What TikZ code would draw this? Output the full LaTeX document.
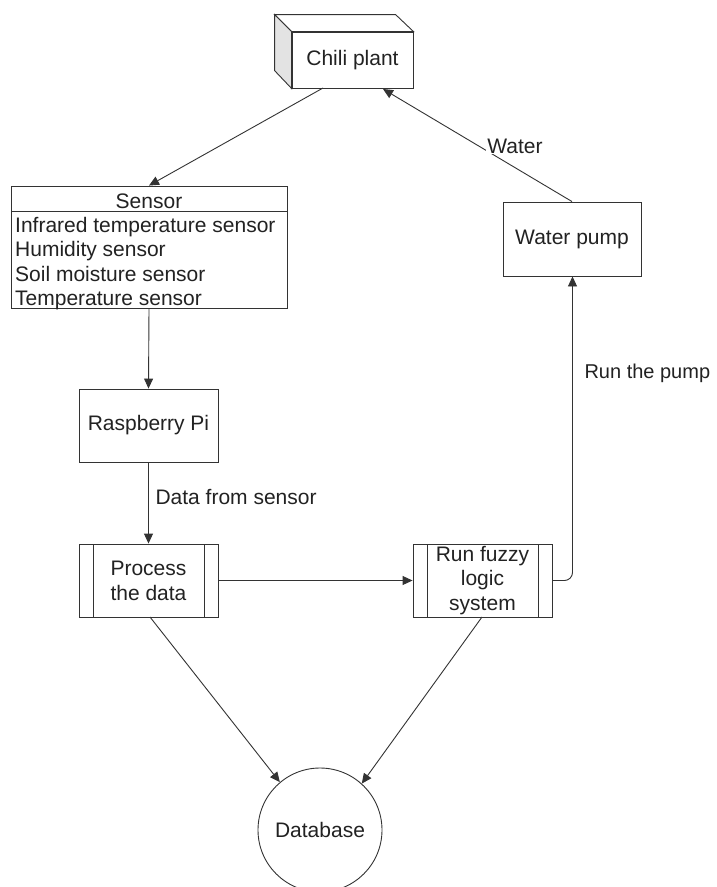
\documentclass[tikz,border=0pt]{standalone}
\usepackage{fontspec}
\setmainfont{Liberation Sans}
\usetikzlibrary{arrows.meta}
\definecolor{ln}{HTML}{333333}
\definecolor{tx}{HTML}{222222}
\begin{document}
\begin{tikzpicture}[x=1pt,y=-1pt,
  every node/.style={font=\fontsize{21}{25}\selectfont, text=tx},
  box/.style={draw=ln, line width=0.9pt, fill=white, inner sep=0pt},
  conn/.style={draw=ln, line width=0.9pt, -{Triangle[length=10pt,width=9pt]}},
  lbl/.style={fill=white, inner sep=1pt},
  item/.style={anchor=base west, inner sep=0pt}]
\useasboundingbox (0,0) rectangle (717,887);
\fill[white] (0,0) rectangle (717,887);

% Chili plant 3D box
\node[box, minimum width=121pt, minimum height=56pt] (chili) at (352.5,60) {};
\filldraw[draw=ln, line width=0.9pt, fill=white] (chili.north west) -- ++(-17,-17) -- ++(121,0) -- (chili.north east) -- cycle;
\filldraw[draw=ln, line width=0.9pt, fill=gray!22] (chili.north west) -- ++(-17,-17) -- ++(0,56) -- (chili.south west) -- cycle;
\node at (chili) {Chili plant};

% Sensor
\node[box, minimum width=276pt, minimum height=122pt] (sensor) at (149,247) {};
\draw[ln, line width=0.9pt] (11,211) -- (287,211);
\node (shead) at (149,201) {Sensor};
\node[item] (s1) at (15,232) {Infrared temperature sensor};
\node[item] (s2) at (15,256.5) {Humidity sensor};
\node[item] (s3) at (15,281) {Soil moisture sensor};
\node[item] (s4) at (15,305) {Temperature sensor};

% Raspberry Pi
\node[box, minimum width=139pt, minimum height=73pt] (rpi) at (148.5,425.5) {Raspberry Pi};

% Process the data
\node[box, minimum width=139pt, minimum height=73pt] (proc) at (148.5,580.5) {};
\draw[ln, line width=0.9pt] (93,544) -- (93,617) (204,544) -- (204,617);
\node[align=center, inner sep=0pt] at (proc) {Process\\the data};

% Run fuzzy logic system
\node[box, minimum width=139pt, minimum height=73pt] (fuzzy) at (482.5,580.5) {};
\draw[ln, line width=0.9pt] (427,544) -- (427,617) (538,544) -- (538,617);
\node[align=center, inner sep=0pt, font=\fontsize{21}{24.5}\selectfont] at (fuzzy) {Run fuzzy\\logic\\system};

% Water pump
\node[box, minimum width=138pt, minimum height=74pt] (pump) at (572,239) {Water pump};

% Database
\node[draw=ln, line width=0.9pt, circle, minimum size=124pt, inner sep=0pt] (db) at (320,830) {Database};

% Connectors
\coordinate (cs) at (323,88);
\draw[conn] (cs) -- (sensor.north);
\draw[conn] (sensor.south) -- (rpi.north);
\draw[conn] (rpi.south) -- (proc.north);
\draw[conn] (proc.east) -- (fuzzy.east -| fuzzy.west);
\draw[conn, rounded corners=8pt] (fuzzy.east) -- (572.5,580.5) -- (pump.south -| 572.5,0);
\coordinate (ce) at (383,89);
\draw[conn] (pump.north) -- (ce);
\draw[conn] (150,617) -- (db.130);
\draw[conn] (482,617) -- (db.48);

% Labels
\node[lbl] (lw) at (515,146) {Water};
\node[anchor=west, font=\fontsize{20}{24}\selectfont] (lr) at (581,373) {Run the pump};
\node[anchor=west] (ld) at (152,497) {Data from sensor};
\end{tikzpicture}
\end{document}
